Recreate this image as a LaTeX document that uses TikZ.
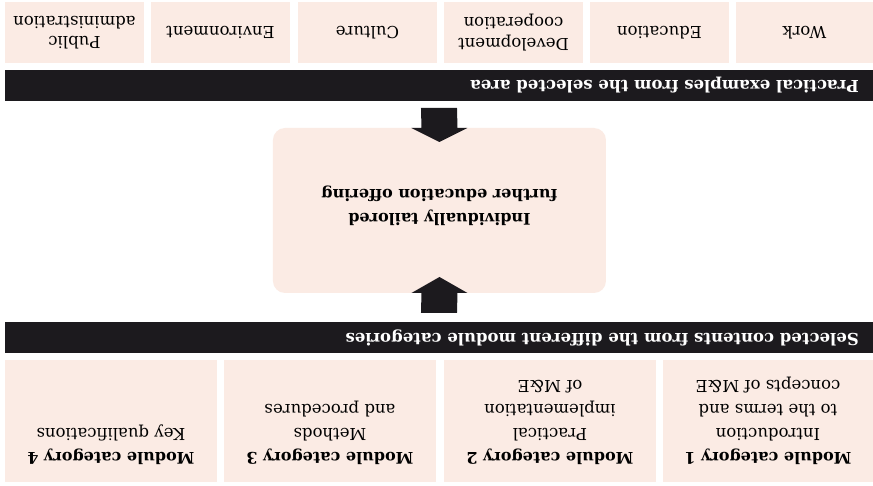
\documentclass[tikz,border=0pt]{standalone}
\usepackage{fontspec}
\setmainfont{DejaVu Serif}
\usetikzlibrary{calc}
\definecolor{blush}{HTML}{FBEBE4}
\definecolor{ink}{HTML}{1C1A1E}
\newcommand{\modtitle}[1]{{\fontsize{16}{24}\selectfont\bfseries #1}}
\tikzset{
  box/.style={fill=blush, inner sep=0pt, outer sep=0pt},
  modbox/.style={box, minimum width=212, minimum height=122, anchor=north west},
  areabox/.style={box, minimum width=139, minimum height=61, anchor=north west,
    align=center, font=\fontsize{16.5}{20.5}\selectfont},
  bar/.style={fill=ink, inner sep=0pt, outer sep=0pt, minimum width=868,
    minimum height=31, anchor=north west},
  modtext/.style={align=center, inner sep=0pt, anchor=north,
    font=\fontsize{16.5}{24}\selectfont},
  bartext/.style={text=white, inner sep=0pt, anchor=west,
    font=\fontsize{16.5}{18}\selectfont\bfseries},
}
\begin{document}
\begin{tikzpicture}[x=1pt, y=-1pt, rotate=180, transform shape]
\useasboundingbox (0,0) rectangle (873,485);
\fill[white] (0,0) rectangle (873,485);
% module categories
\node[modbox, minimum width=210] (m1) at (0,3) {};
\node[modbox] (m2) at (217,3) {};
\node[modbox] (m3) at (437,3) {};
\node[modbox] (m4) at (656,3) {};
\node[modtext] (t1) at ($(m1.north)+(0,17)$) {\modtitle{Module category 1}\\Introduction\\to the terms and\\concepts of M\&E};
\node[modtext] (t2) at ($(m2.north)+(0,17)$) {\modtitle{Module category 2}\\Practical\\implementation\\of M\&E};
\node[modtext] (t3) at ($(m3.north)+(0,17)$) {\modtitle{Module category 3}\\Methods\\and procedures};
\node[modtext] (t4) at ($(m4.north)+(0,17)$) {\modtitle{Module category 4}\\Key qualifications};
\node[bar] (selbar) at (0,132) {};
\node[bartext] (seltitle) at ($(selbar.west)+(14,0)$) {Selected contents from the different module categories};
% the offering
\node[box, rounded corners=12, minimum width=333, minimum height=165, anchor=north west] (mid) at (267,192) {};
\node[align=center, inner sep=0pt, font=\fontsize{16}{24}\selectfont\bfseries] (midtext) at ($(mid)+(0,5)$) {Individually tailored\\further education offering};
\fill[ink] ($(selbar.south)+(-18,9)$) -- ($(mid.north)+(-18,0)$) -- ($(mid.north)+(-28,0)$)
  -- ($(mid.north)+(0,16)$) -- ($(mid.north)+(28,0)$) -- ($(mid.north)+(18,0)$)
  -- ($(selbar.south)+(18,9)$) -- cycle;
\node[bar] (pracbar) at (0,384) {};
\node[bartext] (practitle) at ($(pracbar.west)+(14,0)$) {Practical examples from the selected area};
\fill[ink] ($(pracbar.north)+(-18,-7)$) -- ($(mid.south)+(-18,0)$) -- ($(mid.south)+(-28,0)$)
  -- ($(mid.south)+(0,-14)$) -- ($(mid.south)+(28,0)$) -- ($(mid.south)+(18,0)$)
  -- ($(pracbar.north)+(18,-7)$) -- cycle;
% areas
\node[areabox, minimum width=137] (work) at (0,422) {Work};
\node[areabox] (edu) at (144,422) {Education};
\node[areabox] (dev) at (290,422) {Development\\cooperation};
\node[areabox] (cult) at (436,422) {Culture};
\node[areabox] (env) at (583,422) {Environment};
\node[areabox] (pub) at (729,422) {Public\\administration};
\end{tikzpicture}
\end{document}
